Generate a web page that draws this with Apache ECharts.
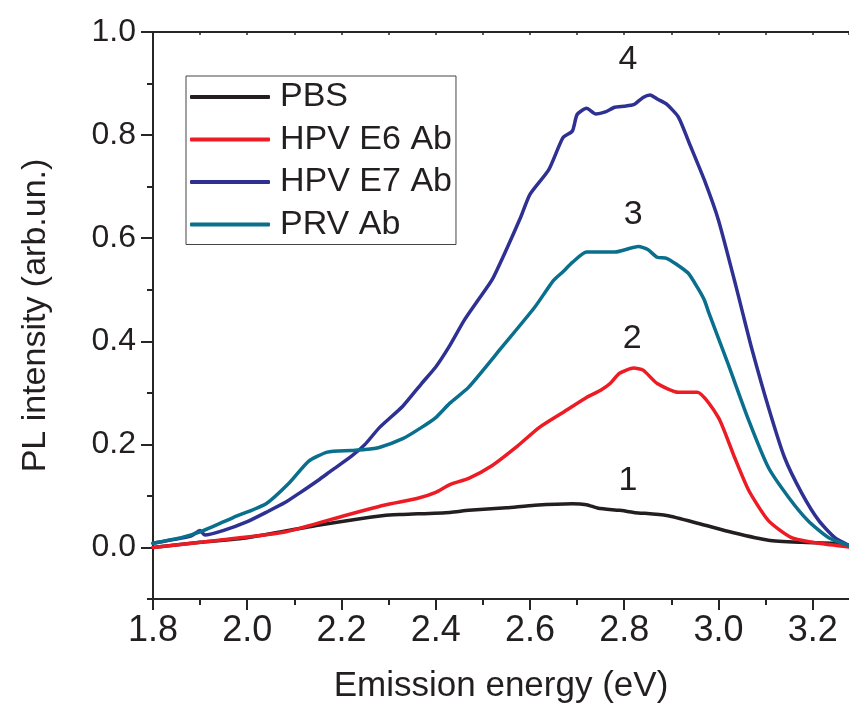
<!DOCTYPE html>
<html>
<head>
<meta charset="utf-8">
<script src="https://cdn.jsdelivr.net/npm/echarts@6/dist/echarts.min.js"></script>
<style>
html,body{margin:0;padding:0;background:#fff;}
#chart{width:849px;height:711px;}
</style>
</head>
<body>
<div id="chart"></div>
<script>
// ---- data ----
var seriesNames = ['PBS', 'HPV E6 Ab', 'HPV E7 Ab', 'PRV Ab'];

var pbsE = [1.80,1.90,2.00,2.15,2.29,2.33,2.43,2.47,2.55,2.61,2.69,2.72,2.745,2.79,2.82,2.89,2.96,3.03,3.106,3.177,3.247,3.277];
var pbsI = [0.000,0.010,0.019,0.043,0.062,0.064,0.068,0.072,0.077,0.082,0.085,0.083,0.076,0.072,0.068,0.062,0.046,0.029,0.014,0.010,0.008,0.004];

var e6E = [1.80,1.94,2.08,2.18,2.29,2.36,2.40,2.43,2.47,2.52,2.57,2.62,2.67,2.72,2.75,2.77,2.79,2.82,2.84,2.87,2.915,2.955,3.00,3.034,3.064,3.106,3.155,3.213,3.277];
var e6I = [0.000,0.014,0.030,0.055,0.082,0.095,0.107,0.122,0.134,0.159,0.194,0.233,0.262,0.291,0.305,0.318,0.338,0.348,0.344,0.318,0.301,0.301,0.252,0.175,0.111,0.052,0.019,0.008,0.001];

var e7E = [1.80,1.84,1.88,1.90,1.91,1.95,2.00,2.04,2.08,2.11,2.15,2.18,2.22,2.25,2.28,2.33,2.37,2.40,2.43,2.46,2.49,2.52,2.55,2.58,2.60,2.64,2.67,2.69,2.70,2.72,2.74,2.76,2.78,2.80,2.82,2.84,2.855,2.87,2.89,2.915,2.94,2.97,3.00,3.034,3.05,3.07,3.106,3.14,3.177,3.213,3.247,3.277];
var e7I = [0.008,0.015,0.022,0.033,0.024,0.033,0.050,0.068,0.087,0.105,0.130,0.150,0.176,0.200,0.232,0.274,0.318,0.350,0.392,0.440,0.480,0.520,0.578,0.640,0.685,0.733,0.795,0.808,0.840,0.852,0.841,0.845,0.854,0.856,0.859,0.873,0.878,0.870,0.860,0.835,0.780,0.713,0.635,0.518,0.460,0.388,0.272,0.175,0.105,0.052,0.019,0.004];

var prvE = [1.80,1.86,1.90,1.97,2.04,2.09,2.13,2.17,2.22,2.25,2.28,2.33,2.37,2.40,2.43,2.47,2.54,2.61,2.65,2.67,2.69,2.72,2.78,2.83,2.85,2.87,2.89,2.91,2.936,2.955,2.97,2.98,3.02,3.064,3.106,3.149,3.19,3.234,3.277];
var prvI = [0.008,0.019,0.030,0.058,0.085,0.126,0.167,0.185,0.188,0.190,0.194,0.211,0.233,0.252,0.280,0.311,0.388,0.466,0.518,0.535,0.553,0.573,0.573,0.584,0.578,0.563,0.561,0.550,0.532,0.505,0.480,0.454,0.357,0.247,0.155,0.097,0.052,0.019,0.004];

var curveLabels = ['1', '2', '3', '4'];
var curveLabelE = [2.808, 2.817, 2.819, 2.808];
var curveLabelI = [0.130, 0.406, 0.645, 0.946];

var xMajorTicks = [1.8, 2.0, 2.2, 2.4, 2.6, 2.8, 3.0, 3.2];
var yLabelTicks = [0.0, 0.2, 0.4, 0.6, 0.8, 1.0];
var yMinorTicks = [-0.1, 0.1, 0.3, 0.5, 0.7, 0.9];

// ---- chart ----
function pairs(xs, ys) { return xs.map(function (x, i) { return [x, ys[i]]; }); }

var colors = ['#231f20', '#ed1c24', '#2e3192', '#0a6f8d'];
var dataSets = [pairs(pbsE, pbsI), pairs(e6E, e6I), pairs(e7E, e7I), pairs(prvE, prvI)];
var FONT = 'Liberation Sans, Arial, Helvetica, sans-serif';
var AX = '#262626';
var XMAX = 3.277;

var series = seriesNames.map(function (n, i) {
  return {
    name: n,
    type: 'line',
    data: dataSets[i],
    showSymbol: false,
    symbol: 'none',
    smooth: 0.2,
    lineStyle: { color: colors[i], width: 3.5, cap: 'round', join: 'round' },
    itemStyle: { color: colors[i] },
    z: 3 + i,
    markPoint: {
      symbol: 'circle',
      symbolSize: 0,
      silent: true,
      data: [{
        coord: [curveLabelE[i], curveLabelI[i]],
        label: { show: true, formatter: curveLabels[i], fontSize: 34, fontFamily: FONT, color: '#231f20', position: 'inside' }
      }]
    }
  };
});

var chart = echarts.init(document.getElementById('chart'), null, { renderer: 'canvas' });
chart.setOption({
  animation: false,
  backgroundColor: '#ffffff',
  textStyle: { fontFamily: FONT },
  grid: { left: 153, right: 0, top: 32, bottom: 112, containLabel: false },
  legend: {
    data: seriesNames.map(function (n) { return { name: n, icon: 'roundRect' }; }),
    orient: 'vertical',
    left: 186,
    top: 76,
    padding: [4, 4, 3, 4],
    itemWidth: 80,
    itemHeight: 4,
    itemGap: 8.5,
    borderColor: '#444',
    borderWidth: 1,
    itemStyle: { borderWidth: 0 },
    textStyle: { fontSize: 34, lineHeight: 34, fontFamily: FONT, color: '#231f20', padding: [0, 0, 0, 5] },
    selectedMode: false
  },
  xAxis: [{
    type: 'value',
    position: 'bottom',
    min: 1.8, max: XMAX, interval: 0.2,
    name: 'Emission energy (eV)',
    nameLocation: 'middle',
    nameGap: 70,
    nameTextStyle: { fontSize: 35, fontFamily: FONT, color: '#231f20' },
    axisLine: { show: true, onZero: false, lineStyle: { color: AX, width: 2 } },
    axisTick: { show: true, inside: false, length: 11, lineStyle: { color: AX, width: 2 }, customValues: xMajorTicks },
    minorTick: { show: true, splitNumber: 2, length: 6, lineStyle: { color: AX, width: 2 } },
    axisLabel: { show: true, margin: 14, fontSize: 36, fontFamily: FONT, color: '#231f20', customValues: xMajorTicks,
      formatter: function (v) { return v.toFixed(1); } },
    splitLine: { show: false }
  }, {
    type: 'value',
    position: 'top',
    min: 1.8, max: XMAX, interval: 0.1,
    axisLine: { show: true, onZero: false, lineStyle: { color: AX, width: 2 } },
    axisTick: { show: true, inside: true, length: 3, lineStyle: { color: AX, width: 1.5 } },
    axisLabel: { show: false },
    splitLine: { show: false }
  }],
  yAxis: [{
    type: 'value',
    position: 'left',
    min: -0.1, max: 1.0, interval: 0.1,
    name: 'PL intensity (arb.un.)',
    nameLocation: 'middle',
    nameGap: 100,
    nameTextStyle: { fontSize: 34, fontFamily: FONT, color: '#231f20' },
    axisLine: { show: true, onZero: false, lineStyle: { color: AX, width: 2 } },
    axisTick: { show: true, inside: false, length: 12, lineStyle: { color: AX, width: 2 }, customValues: yLabelTicks },
    axisLabel: { show: true, margin: 17, fontSize: 32, fontFamily: FONT, color: '#231f20', customValues: yLabelTicks,
      formatter: function (v) { return (Math.abs(v) < 1e-9 ? 0 : v).toFixed(1); } },
    splitLine: { show: false }
  }, {
    type: 'value',
    position: 'left',
    offset: 0,
    min: -0.1, max: 1.0, interval: 0.1,
    axisLine: { show: false },
    axisTick: { show: true, inside: false, length: 6, lineStyle: { color: AX, width: 2 }, customValues: yMinorTicks },
    axisLabel: { show: false },
    splitLine: { show: false }
  }],
  series: series
});
</script>
</body>
</html>
